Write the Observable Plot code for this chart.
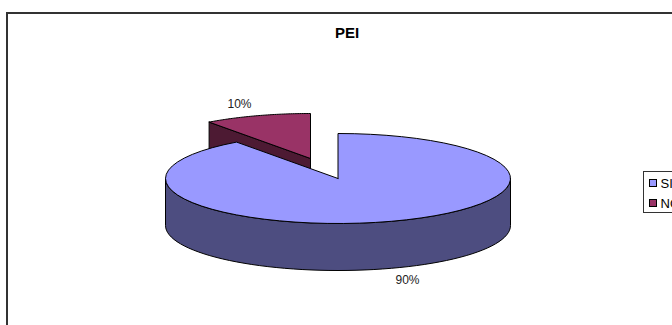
<!DOCTYPE html>
<html><head><meta charset="utf-8">
<script src="https://cdn.jsdelivr.net/npm/d3@7"></script>
<script src="https://cdn.jsdelivr.net/npm/@observablehq/plot@0.6"></script>
<style>html,body{margin:0;padding:0;background:#fff;overflow:hidden}svg{display:block}</style>
</head><body><div id="c"></div>
<script>
const categories = ["SI","NO"];
const shares = [90,10];
const labels = ["90%","10%"];
const topColors = ["#9999FF","#993366"];
const sideColors = ["#4D4D80","#4D1A33"];
const font = "Liberation Sans, Arial, sans-serif";

const W=672,H=325;
const cx=337.5,cy=178,rx=172.5,ry=45,depth=47;
const off={dx:-27.5,dy:-20};
const startDeg=360*shares[0]/100; // big slice runs from 0 to this angle, clockwise from the top
const pt=(deg,c=[cx,cy])=>{const a=deg*Math.PI/180;return [c[0]+rx*Math.sin(a),c[1]-ry*Math.cos(a)];};
const arc=(a,b,c)=>d3.range(0,61).map(i=>pt(a+(b-a)*i/60,c));
const poly=(pts,fill,group)=>pts.map(p=>({x:p[0],y:p[1],fill,group}));
const c2=[cx+off.dx,cy+off.dy];
const smallApex=c2;
const smallEnd=pt(startDeg,c2);
const shift=(p,d)=>[p[0],p[1]+d];

const wall=poly([smallEnd,smallApex,shift(smallApex,depth),shift(smallEnd,depth)],sideColors[1],"w");
const smallTop=poly([smallApex,...arc(startDeg,360,c2)],topColors[1],"s");
const bigSide=poly([...arc(90,270),...arc(270,90).map(p=>shift(p,depth))],sideColors[0],"b");
const bigTop=poly([[cx,cy],...arc(0,startDeg)],topColors[0],"t");
const closed=a=>[...a,a[0]];
const shapes=[wall,smallTop,bigSide,bigTop].map(closed);

const chart=Plot.plot({
  width:W,height:H,margin:0,
  x:{domain:[0,W],range:[0,W],axis:null},
  y:{domain:[0,H],range:[0,H],axis:null},
  style:{background:"#fff",fontFamily:font},
  marks:[
    Plot.rect([{x1:7,x2:W+20,y1:13,y2:H+20}],{x1:"x1",x2:"x2",y1:"y1",y2:"y2",fill:"#fff",stroke:"#333",strokeWidth:2,clip:true}),
    ...shapes.map(s=>Plot.line(s,{x:"x",y:"y",fill:d=>d.fill,stroke:"#000",strokeWidth:1,curve:"linear"})),
    Plot.text(["PEI"],{x:()=>346.5,y:()=>33,text:d=>d,fontSize:15,fontWeight:"bold",fill:"#000"}),
    Plot.text([labels[1]],{x:()=>239,y:()=>104,text:d=>d,fontSize:12,fill:"#222"}),
    Plot.text([labels[0]],{x:()=>407,y:()=>280,text:d=>d,fontSize:12,fill:"#222"}),
    Plot.rect([{}],{x1:()=>643.5,x2:()=>W+20,y1:()=>171.5,y2:()=>212.5,fill:"#fff",stroke:"#333",strokeWidth:1}),
    Plot.rect(categories,{x1:()=>649.5,x2:()=>656.5,y1:(d,i)=>i?199.5:179.5,y2:(d,i)=>i?206.5:186.5,fill:(d,i)=>topColors[i],stroke:"#000",strokeWidth:1}),
    Plot.text(categories,{x:()=>660,y:(d,i)=>i?203:183,text:d=>d,fontSize:13,textAnchor:"start",fill:"#000"})
  ]
});
document.getElementById("c").appendChild(chart);
</script></body></html>
